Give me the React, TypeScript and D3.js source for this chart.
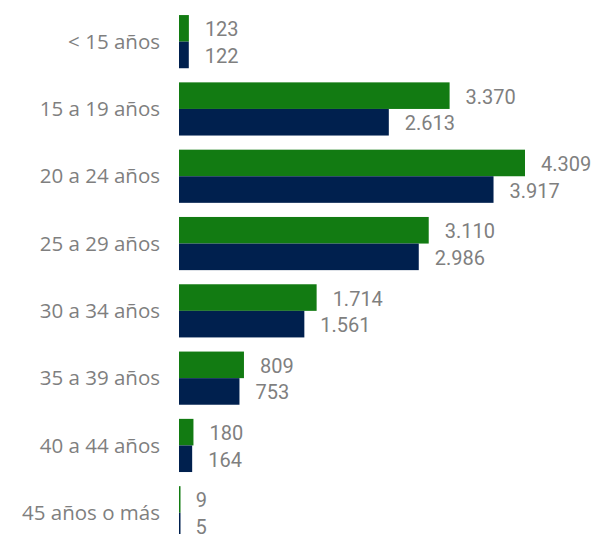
import React, { useEffect, useRef } from "react";
import * as d3 from "d3";

const width = 595;
const height = 534;

const categories = [
  "< 15 años",
  "15 a 19 años",
  "20 a 24 años",
  "25 a 29 años",
  "30 a 34 años",
  "35 a 39 años",
  "40 a 44 años",
  "45 años o más",
];
const seriesA = [123, 3370, 4309, 3110, 1714, 809, 180, 9];
const seriesB = [122, 2613, 3917, 2986, 1561, 753, 164, 5];
const seriesNames = ["A", "B"];
const colors = ["#127b12", "#00204e"];

const fmt = d3.formatLocale({
  decimal: ",",
  thousands: ".",
  grouping: [3],
  currency: ["", " €"],
}).format(",d");

export default function App() {
  const ref = useRef<SVGSVGElement>(null);

  useEffect(() => {
    const svg = d3.select(ref.current);
    svg.selectAll("*").remove();

    const y = d3
      .scaleBand()
      .domain(categories)
      .range([8, 546.4])
      .paddingInner(0.21)
      .paddingOuter(0.105);

    const ySub = d3
      .scaleBand()
      .domain(seriesNames)
      .range([0, y.bandwidth()]);

    const x = d3
      .scaleLinear()
      .domain([0, d3.max(seriesA)!])
      .range([179, 525]);

    const rows = categories.map((c, i) => ({
      cat: c,
      vals: [seriesA[i], seriesB[i]],
    }));

    const g = svg
      .selectAll("g.row")
      .data(rows)
      .enter()
      .append("g")
      .attr("class", "row")
      .attr("transform", (d) => `translate(0,${y(d.cat)})`);

    g.append("text")
      .attr("x", 160)
      .attr("y", y.bandwidth() / 2)
      .attr("dy", "0.35em")
      .attr("text-anchor", "end")
      .attr("fill", "#7f7f7f")
      .style("font-family", "'Open Sans', sans-serif")
      .style("font-size", "20.5px")
      .text((d) => d.cat);

    const bars = g
      .selectAll("g.bar")
      .data((d) => d.vals.map((v, j) => ({ v, s: seriesNames[j], j })))
      .enter()
      .append("g")
      .attr("class", "bar");

    bars
      .append("rect")
      .attr("x", x(0))
      .attr("y", (d) => ySub(d.s)!)
      .attr("width", (d) => Math.max(x(d.v) - x(0), 1.5))
      .attr("height", ySub.bandwidth())
      .attr("fill", (d) => colors[d.j]);

    bars
      .append("text")
      .attr("x", (d) => x(d.v) + 16)
      .attr("y", (d) => ySub(d.s)! + ySub.bandwidth() / 2 + 1)
      .attr("dy", "0.35em")
      .attr("fill", "#7f7f7f")
      .style("font-family", "Roboto, sans-serif")
      .style("font-weight", "400")
      .style("font-size", "20px")
      .text((d) => fmt(d.v));
  }, []);

  return (
    <svg
      ref={ref}
      width={width}
      height={height}
      style={{ position: "absolute", left: 0, top: 0, background: "#fff" }}
    />
  );
}
